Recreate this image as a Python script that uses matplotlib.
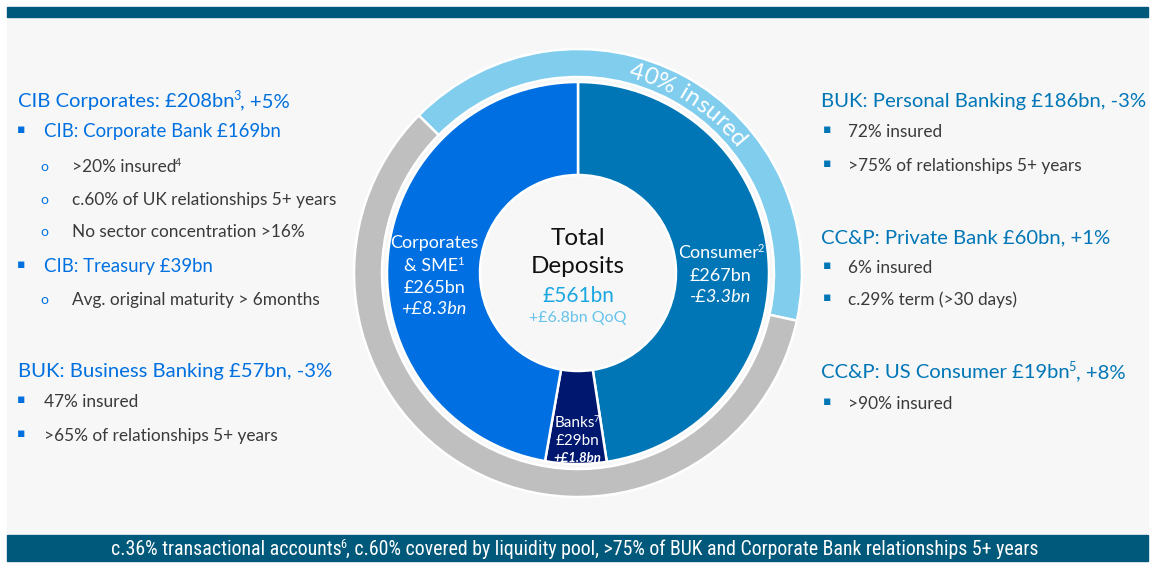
import numpy as np
import matplotlib
matplotlib.use('Agg')
import matplotlib.pyplot as plt
from matplotlib import font_manager
from matplotlib.patches import Rectangle

W, H = 1153, 563

# данные
segments = ['Consumer', 'Banks', 'Corporates & SME']
deposits_bn = [267, 29, 265]
seg_colors = ['#0076B6', '#00176F', '#006FE2']
insured_share = [41, 59]          # внешнее кольцо: insured / остальное
ring_colors = ['#80CDEE', '#BFBFBF']

left_lines = [
    # (kind, text)
    ('head', 'CIB Corporates: £208bn³, +5%'),
    ('sub', 'CIB: Corporate Bank £169bn'),
    ('item2', '>20% insured⁴'),
    ('item2', 'c.60% of UK relationships 5+ years'),
    ('item2', 'No sector concentration >16%'),
    ('sub', 'CIB: Treasury £39bn'),
    ('item2', 'Avg. original maturity > 6months'),
    ('head', 'BUK: Business Banking £57bn, -3%'),
    ('item', '47% insured'),
    ('item', '>65% of relationships 5+ years'),
]
left_baselines = [107, 137, 172, 205, 237, 272, 305, 377, 407, 441]

right_lines = [
    ('head', 'BUK: Personal Banking £186bn, -3%'),
    ('item', '72% insured'),
    ('item', '>75% of relationships 5+ years'),
    ('head', 'CC&P: Private Bank £60bn, +1%'),
    ('item', '6% insured'),
    ('item', 'c.29% term (>30 days)'),
    ('head', 'CC&P: US Consumer £19bn⁵, +8%'),
    ('item', '>90% insured'),
]
right_baselines = [107, 137, 171, 243, 273, 305, 378, 409]

seg_labels = [
    ['Consumer²', '£267bn', '-£3.3bn'],
    ['Banks⁷', '£29bn', '+£1.8bn'],
    ['Corporates', '& SME¹', '£265bn', '+£8.3bn'],
]
total_label = ['Total', 'Deposits', '£561bn', '+£6.8bn QoQ']
ring_label = '40% insured'
banner_text = ('c.36% transactional accounts⁶, c.60% covered by liquidity pool, '
               '>75% of BUK and Corporate Bank relationships 5+ years')

plt.rcParams['font.family'] = ['Lato', 'DejaVu Sans']

BLUE = '#0070E0'
TEAL = '#0076B6'
GRAY = '#3A3A3A'
DARK = '#00587A'
BG = '#F7F7F7'
SUP = {'¹': '1', '²': '2', '³': '3', '⁴': '4', '⁵': '5', '⁶': '6', '⁷': '7'}


def Y(y):
    # перевод координаты картинки в координату осей
    return H - y


fig = plt.figure(figsize=(W / 100, H / 100), dpi=100, facecolor='white')
ax = fig.add_axes([0, 0, 1, 1])

# фон и полосы
ax.add_patch(Rectangle((7, Y(533)), 1141, 517, color=BG, zorder=0))
ax.add_patch(Rectangle((7, Y(16.5)), 1141, 9.5, color=DARK, zorder=1))
ax.add_patch(Rectangle((7, Y(561)), 1141, 26, color=DARK, zorder=1))

cx, cy = 578, Y(273)
ax.pie(deposits_bn, radius=191, center=(cx, cy), startangle=90, counterclock=False,
       colors=seg_colors, frame=True,
       wedgeprops=dict(width=93, edgecolor='white', linewidth=1.8))
ax.pie(insured_share, radius=224, center=(cx, cy), startangle=135.3, counterclock=False,
       colors=ring_colors, frame=True,
       wedgeprops=dict(width=28, edgecolor='white', linewidth=1.8))
ax.set_xlim(0, W)
ax.set_ylim(0, H)
ax.set_aspect('auto')
ax.axis('off')

renderer = fig.canvas.get_renderer()


def text_width(s, **kw):
    def raw(t_):
        t = ax.text(0, 0, t_, **kw)
        w_ = t.get_window_extent(renderer).width
        t.remove()
        return w_
    return raw('x' + s + 'x') - raw('xx')


def runs_of(s):
    # разбиваем строку на обычные куски и надстрочные цифры
    runs = []
    for ch in s:
        sup = ch in SUP
        c = SUP.get(ch, ch)
        if runs and runs[-1][1] == sup:
            runs[-1][0] += c
        else:
            runs.append([c, sup])
    return runs


def run_width(r, sup, fontsize, **kw):
    if sup:
        return text_width(r, fontsize=fontsize * 0.62, **kw) - 1.5
    return text_width(r, fontsize=fontsize, **kw)


def rich_width(s, fontsize, **kw):
    return sum(run_width(r, sup, fontsize, **kw) for r, sup in runs_of(s))


def rich_text(x, y, s, fontsize, color, ha='left', **kw):
    total = rich_width(s, fontsize, **kw)
    x0 = x - total / 2 if ha == 'center' else x
    for r, sup in runs_of(s):
        fs = fontsize * (0.62 if sup else 1)
        dy = fontsize * 100 / 72 * 0.34 if sup else 0
        ax.text(x0 - (1.5 if sup else 0), y + dy, r, ha='left', va='baseline',
                fontsize=fs, color=color, **kw)
        x0 += run_width(r, sup, fontsize, **kw)


# текст по дуге
def arc_text(s, r, mid_deg, **kw):
    widths = [text_width(ch, **kw) for ch in s]
    total = sum(widths)
    start = np.radians(mid_deg) + total / (2 * r)
    cum = 0
    for ch, w in zip(s, widths):
        a = start - (cum + w / 2) / r
        ax.text(cx + r * np.cos(a), cy + r * np.sin(a), ch, rotation=np.degrees(a) - 90,
                rotation_mode='anchor', ha='center', va='baseline', **kw)
        cum += w


arc_text(ring_label, 202, 57, fontsize=17.5, color='white')

# подписи в центре
ax.text(cx, Y(245), total_label[0], ha='center', va='baseline', fontsize=17.5, color='#111111')
ax.text(cx, Y(273), total_label[1], ha='center', va='baseline', fontsize=17.5, color='#111111')
ax.text(cx, Y(302), total_label[2], ha='center', va='baseline', fontsize=15, color='#1AA7E1')
ax.text(cx, Y(322), total_label[3], ha='center', va='baseline', fontsize=11.5, color='#66C3EC')

# подписи сегментов
for lbl, x0, bases, sizes in [
        (seg_labels[0], 721, [258, 281, 302], [13, 13, 13]),
        (seg_labels[1], 577, [427, 445, 462], [11, 11, 9.5]),
        (seg_labels[2], 434, [248, 271, 293, 314], [13, 13, 13, 13])]:
    for i, (s, b, fs) in enumerate(zip(lbl, bases, sizes)):
        italic = i == len(lbl) - 1
        rich_text(x0, Y(b), s, fs, 'white', ha='center',
                  style='italic' if italic else 'normal',
                  weight='bold' if (italic and lbl is seg_labels[1]) else 'normal')


# текстовые блоки слева и справа
def draw_block(lines, bases, x_head, x_bullet, x_text, x_text2, head_color):
    for (kind, s), b in zip(lines, bases):
        if kind == 'head':
            rich_text(x_head, Y(b), s, 14.6, head_color)
        elif kind == 'sub':
            ax.text(x_bullet, Y(b - 4), '▪', va='baseline', ha='center', fontsize=9,
                    color=head_color, family='DejaVu Sans')
            rich_text(x_text, Y(b), s, 13.4, head_color)
        elif kind == 'item':
            ax.text(x_bullet, Y(b - 4), '▪', va='baseline', ha='center', fontsize=9,
                    color=head_color, family='DejaVu Sans')
            rich_text(x_text, Y(b), s, 12.4, GRAY)
        else:
            ax.text(x_text, Y(b - 1), 'o', va='baseline', ha='center', fontsize=10,
                    color=head_color)
            rich_text(x_text2, Y(b), s, 12.4, GRAY)


draw_block(left_lines, left_baselines, 18, 21, 44, 72, BLUE)
draw_block(right_lines, right_baselines, 821, 827, 848, 876, TEAL)

# нижняя полоса
names = {f.name for f in font_manager.fontManager.ttflist}
banner_family = 'Lato'
for cand in ['Liberation Sans Narrow', 'DejaVu Sans Condensed', 'Roboto Condensed']:
    if cand in names:
        banner_family = cand
        break
fs = 13
w = rich_width(banner_text, fs, family=[banner_family, 'DejaVu Sans'])
fs = fs * 928 / w
rich_text(575, Y(555), banner_text, fs, 'white', ha='center',
          family=[banner_family, 'DejaVu Sans'])

fig.savefig('out.png', dpi=100, facecolor='white')
